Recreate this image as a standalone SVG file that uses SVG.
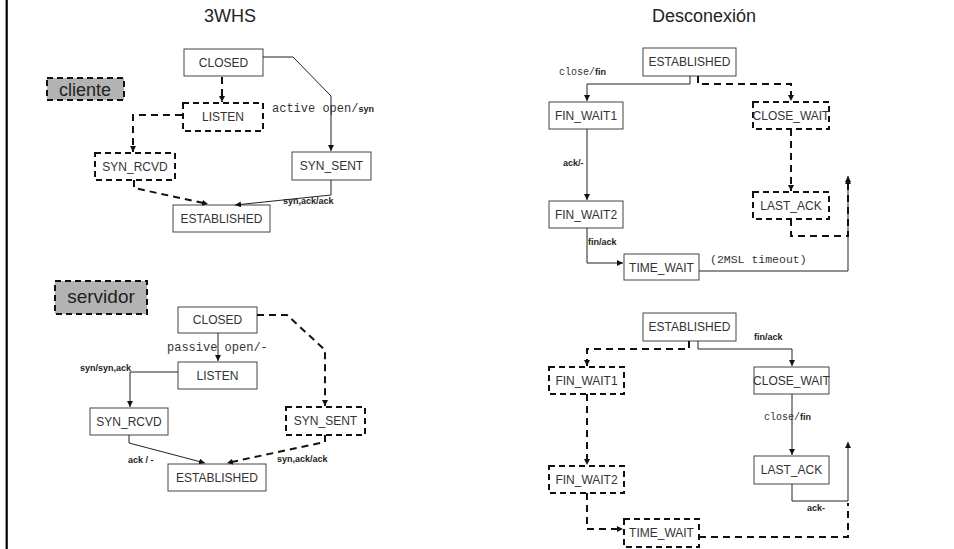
<svg xmlns="http://www.w3.org/2000/svg" width="954" height="549" viewBox="0 0 954 549">
  <defs>
    <marker id="arr" markerUnits="userSpaceOnUse" markerWidth="8" markerHeight="8" refX="6" refY="3" orient="auto">
      <path d="M0,0 L6,3 L0,6 z" fill="#111"/>
    </marker>
    <style>
      .box { fill: #fff; stroke: #444; stroke-width: 1; }
      .dbox { fill: #fff; stroke: #111; stroke-width: 2; stroke-dasharray: 6 4; }
      .tag { fill: #b3b3b3; stroke: #111; stroke-width: 2; stroke-dasharray: 6 4; }
      .lbl { font-family: "Liberation Sans", Arial, sans-serif; font-size: 12px; fill: #333; text-anchor: middle; }
      .title { font-family: "Liberation Sans", Arial, sans-serif; font-size: 18px; fill: #222; text-anchor: middle; }
      .ev { font-family: "Liberation Sans", Arial, sans-serif; font-size: 9px; font-weight: bold; fill: #222; }
      .mono { font-family: "Liberation Mono", "Courier New", monospace; font-size: 12px; fill: #333; }
      .bold { font-family: "Liberation Sans", Arial, sans-serif; font-weight: bold; font-size: 9px; fill: #222; }
      .s { fill: none; stroke: #222; stroke-width: 1; marker-end: url(#arr); }
      .d { fill: none; stroke: #111; stroke-width: 2; stroke-dasharray: 7 5; marker-end: url(#arr); }
    </style>
  </defs>

  <rect width="954" height="549" fill="#fff"/>
  <line x1="6.7" y1="0" x2="6.7" y2="549" stroke="#000" stroke-width="2.2"/>

  <text class="title" x="230" y="22">3WHS</text>
  <text class="title" x="704" y="22">Desconexión</text>

  <!-- Three-way handshake: client side -->
  <g id="tag-cliente"><rect class="tag" x="47" y="78" width="77" height="22"/><text class="title" x="85" y="96">cliente</text></g>
  <g id="c-closed"><rect class="box" x="184" y="49" width="79" height="27"/><text class="lbl" x="223.5" y="67">CLOSED</text></g>
  <g id="c-listen"><rect class="dbox" x="183" y="103" width="80" height="28"/><text class="lbl" x="223" y="121">LISTEN</text></g>
  <g id="c-synrcvd"><rect class="dbox" x="95" y="153" width="80" height="27"/><text class="lbl" x="135" y="171">SYN_RCVD</text></g>
  <g id="c-synsent"><rect class="box" x="292" y="152" width="79" height="28"/><text class="lbl" x="331.5" y="170">SYN_SENT</text></g>
  <g id="c-established"><rect class="box" x="173" y="205" width="97" height="27"/><text class="lbl" x="221.5" y="223">ESTABLISHED</text></g>

  <!-- Three-way handshake: server side -->
  <g id="tag-servidor"><rect class="tag" x="55" y="281" width="92" height="33"/><text class="title" x="101" y="303" style="font-size:19px">servidor</text></g>
  <g id="s-closed"><rect class="box" x="178" y="307" width="79" height="26"/><text class="lbl" x="217.5" y="324">CLOSED</text></g>
  <g id="s-listen"><rect class="box" x="178" y="362" width="79" height="27"/><text class="lbl" x="217.5" y="380">LISTEN</text></g>
  <g id="s-synrcvd"><rect class="box" x="90" y="408" width="78" height="27"/><text class="lbl" x="129" y="426">SYN_RCVD</text></g>
  <g id="s-synsent"><rect class="dbox" x="286" y="407" width="79" height="28"/><text class="lbl" x="325.5" y="425">SYN_SENT</text></g>
  <g id="s-established"><rect class="box" x="168" y="464" width="98" height="27"/><text class="lbl" x="217" y="482">ESTABLISHED</text></g>

  <!-- Teardown: active closer -->
  <g id="a-established"><rect class="box" x="643" y="48" width="93" height="28"/><text class="lbl" x="689.5" y="66">ESTABLISHED</text></g>
  <g id="a-finwait1"><rect class="box" x="549" y="102" width="74" height="27"/><text class="lbl" x="586" y="120">FIN_WAIT1</text></g>
  <g id="a-closewait"><rect class="dbox" x="753" y="102" width="76" height="27"/><text class="lbl" x="791" y="120">CLOSE_WAIT</text></g>
  <g id="a-finwait2"><rect class="box" x="549" y="201" width="74" height="27"/><text class="lbl" x="586" y="219">FIN_WAIT2</text></g>
  <g id="a-lastack"><rect class="dbox" x="753" y="192" width="76" height="27"/><text class="lbl" x="791" y="210">LAST_ACK</text></g>
  <g id="a-timewait"><rect class="box" x="624" y="254" width="75" height="26"/><text class="lbl" x="661.5" y="272">TIME_WAIT</text></g>

  <!-- Teardown: passive closer -->
  <g id="p-established"><rect class="box" x="643" y="313" width="93" height="28"/><text class="lbl" x="689.5" y="331">ESTABLISHED</text></g>
  <g id="p-finwait1"><rect class="dbox" x="549" y="367" width="75" height="27"/><text class="lbl" x="586.5" y="385">FIN_WAIT1</text></g>
  <g id="p-closewait"><rect class="box" x="754" y="367" width="75" height="27"/><text class="lbl" x="791.5" y="385">CLOSE_WAIT</text></g>
  <g id="p-finwait2"><rect class="dbox" x="549" y="466" width="75" height="27"/><text class="lbl" x="586.5" y="484">FIN_WAIT2</text></g>
  <g id="p-lastack"><rect class="box" x="754" y="456" width="75" height="28"/><text class="lbl" x="791.5" y="474">LAST_ACK</text></g>
  <g id="p-timewait"><rect class="dbox" x="624" y="519" width="75" height="28"/><text class="lbl" x="661.5" y="537">TIME_WAIT</text></g>

  <g id="connectors">
    <!-- client -->
    <path class="d" d="M222,77 V102"/>
    <path class="d" d="M182,115 H133 V152"/>
    <path class="s" d="M263,57 H293 L331,96 V151"/>
    <path class="d" d="M134,180 V188 L208,204"/>
    <path class="s" d="M331,180 V195 L235,205"/>
    <!-- server -->
    <path class="s" d="M218,333 V361"/>
    <path class="s" d="M178,372 H130 V407"/>
    <path class="d" d="M257,315 H287 L325,350 V406"/>
    <path class="s" d="M129,435 V443 L205,463"/>
    <path class="d" d="M325,435 V442 L227,463"/>
    <!-- active close -->
    <path class="s" d="M690,76 V84 H587 V101"/>
    <path class="d" d="M698,76 V84 H791 V101"/>
    <path class="s" d="M587,129 V200"/>
    <path class="d" d="M791,129 V191"/>
    <path class="s" d="M587,228 V263 H623"/>
    <path class="s" d="M699,271 H848 V176"/>
    <path class="d" d="M791,219 V236 H848 V178"/>
    <!-- passive close -->
    <path class="d" d="M689,341 V349 H587 V366"/>
    <path class="s" d="M698,341 V349 H792 V366"/>
    <path class="d" d="M587,394 V465"/>
    <path class="s" d="M792,394 V455"/>
    <path class="d" d="M587,493 V529 H623"/>
    <path class="s" d="M792,484 V501 H848 V442"/>
    <path class="d" d="M699,537 H848 V503" style="marker-end:none"/>
  </g>

  <g id="labels">
    <text class="mono" x="272" y="112">active open/<tspan class="bold">syn</tspan></text>
    <text class="ev" x="283" y="204">syn,ack/ack</text>
    <text class="mono" x="167" y="351">passive open/-</text>
    <text class="ev" x="80" y="371">syn/syn,ack</text>
    <text class="ev" x="128" y="463">ack / -</text>
    <text class="ev" x="277" y="462">syn,ack/ack</text>
    <text class="mono" x="559" y="75" style="font-size:10px">close/<tspan class="bold">fin</tspan></text>
    <text class="ev" x="563" y="166">ack/-</text>
    <text class="ev" x="588" y="245">fin/ack</text>
    <text class="mono" x="710" y="263" style="font-size:11.5px">(2MSL timeout)</text>
    <text class="ev" x="754" y="340">fin/ack</text>
    <text class="mono" x="764" y="420" style="font-size:10px">close/<tspan class="bold">fin</tspan></text>
    <text class="ev" x="807" y="511">ack-</text>
  </g>
</svg>
